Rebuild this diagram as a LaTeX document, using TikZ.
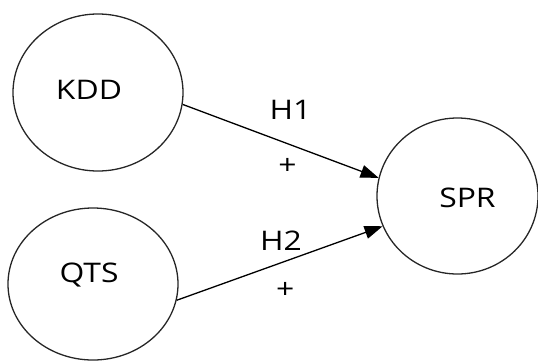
\documentclass[tikz,border=0pt]{standalone}
\usepackage{fontspec}
\setmainfont{Open Sans}[FakeStretch=1.18]
\usetikzlibrary{arrows.meta}
\usetikzlibrary{positioning}
\usetikzlibrary{shapes}
\tikzset{construct/.style={draw=black!85, ellipse, line width=1.3pt, inner sep=0pt}}
\tikzset{connect/.style={draw, line width=1.3pt, -{Triangle[length=18pt,width=13pt]}}}
\tikzset{hyp/.style={font=\fontsize{27}{30}\selectfont, inner sep=0pt}}

\begin{document}
\begin{tikzpicture}[x=1pt,y=-1pt]
\useasboundingbox (0,0) rectangle (538,360);

\node[construct,minimum width=170pt,minimum height=157pt,label={[hyp,xshift=-9pt,yshift=2.5pt]center:KDD}] (kdd) at (98,92.5) {};
\node[construct,minimum width=170pt,minimum height=152pt,label={[hyp,xshift=-4pt,yshift=9pt]center:QTS}] (qts) at ([xshift=-5pt,yshift=-191.5pt]kdd) {};
\node[construct,minimum width=161pt,minimum height=156pt,label={[hyp,xshift=10pt,yshift=-2pt]center:SPR}] (spr) at ([xshift=359.5pt,yshift=-103.5pt]kdd) {};

\path[connect] (kdd.-8) -- node[hyp,pos=0.55,yshift=35pt]{H1} node[hyp,pos=0.535,yshift=-23pt]{+} (spr.167);
\path[connect] (qts.-11) -- node[hyp,pos=0.507,yshift=22pt]{H2} node[hyp,pos=0.527,yshift=-29.5pt]{+} (spr.202);

\end{tikzpicture}
\end{document}
